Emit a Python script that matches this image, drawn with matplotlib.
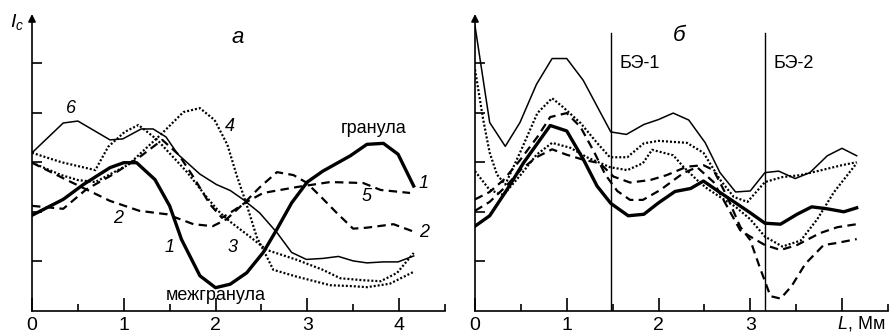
import matplotlib
matplotlib.use('Agg')
import matplotlib.pyplot as plt

plt.rcParams['font.family'] = ['Liberation Sans', 'DejaVu Sans']
plt.rcParams['mathtext.fontset'] = 'custom'
plt.rcParams['mathtext.rm'] = 'Liberation Sans'
plt.rcParams['mathtext.it'] = 'Liberation Sans:italic'

# ---------------- data: panel a ----------------
a1_x = [0, 0.34, 0.56, 0.85, 1.0, 1.14, 1.34, 1.5, 1.63, 1.83, 2.0, 2.16, 2.34, 2.52, 2.67, 2.83, 3.0, 3.17, 3.47, 3.65, 3.83, 3.99, 4.16]
a1_y = [1.93, 2.25, 2.55, 2.89, 2.99, 2.99, 2.65, 2.12, 1.44, 0.71, 0.47, 0.54, 0.77, 1.18, 1.65, 2.18, 2.6, 2.82, 3.13, 3.36, 3.38, 3.16, 2.52]

a6_x = [0, 0.34, 0.5, 0.85, 0.99, 1.19, 1.32, 1.46, 1.59, 1.83, 2.01, 2.16, 2.3, 2.48, 2.67, 2.83, 2.99, 3.17, 3.34, 3.5, 3.65, 3.83, 3.99, 4.16]
a6_y = [3.19, 3.79, 3.83, 3.45, 3.47, 3.67, 3.67, 3.51, 3.16, 2.76, 2.55, 2.43, 2.25, 1.98, 1.58, 1.18, 1.04, 1.06, 1.10, 1.01, 0.97, 0.99, 0.99, 1.11]

a2_x = [0, 0.37, 0.85, 1.17, 1.47, 1.76, 1.97, 2.12, 2.32, 2.48, 2.67, 2.85, 2.99, 3.14, 3.32, 3.5, 3.65, 3.94, 4.16]
a2_y = [2.99, 2.65, 2.22, 2.02, 1.95, 1.75, 1.71, 1.85, 2.19, 2.49, 2.80, 2.74, 2.59, 2.32, 1.98, 1.66, 1.68, 1.75, 1.60]

a5_x = [0, 0.34, 0.59, 0.88, 1.17, 1.42, 1.6, 1.76, 1.94, 2.07, 2.21, 2.32, 2.52, 2.89, 3.25, 3.61, 3.8, 4.12]
a5_y = [2.12, 2.06, 2.45, 2.75, 3.1, 3.45, 3.15, 2.7, 2.15, 1.88, 2.04, 2.18, 2.38, 2.50, 2.60, 2.58, 2.44, 2.38]

a4_x = [0, 0.32, 0.5, 0.69, 1.05, 1.4, 1.65, 1.83, 1.99, 2.13, 2.23, 2.34, 2.45, 2.56, 2.63, 2.89, 3.25, 3.5, 3.65, 3.9, 4.16]
a4_y = [2.99, 2.74, 2.64, 2.6, 2.95, 3.55, 4.01, 4.09, 3.85, 3.35, 2.74, 2.14, 1.49, 1.09, 0.83, 0.69, 0.52, 0.50, 0.48, 0.55, 0.79]

a3_x = [0, 0.32, 0.69, 0.83, 1.01, 1.16, 1.36, 1.54, 1.69, 1.91, 2.05, 2.16, 2.38, 2.56, 2.89, 3.17, 3.36, 3.61, 3.8, 3.98, 4.16]
a3_y = [3.19, 3.0, 2.84, 3.31, 3.61, 3.75, 3.46, 3.1, 2.80, 2.28, 1.98, 1.8, 1.49, 1.23, 1.03, 0.83, 0.66, 0.62, 0.6, 0.77, 1.17]

# ---------------- data: panel б ----------------
b6_x = [0, 0.16, 0.33, 0.49, 0.67, 0.84, 1.0, 1.18, 1.35, 1.48, 1.65, 1.84, 2.0, 2.16, 2.33, 2.51, 2.67, 2.84, 3.0, 3.16, 3.31, 3.49, 3.65, 3.84, 4.0, 4.16]
b6_y = [5.75, 3.80, 3.32, 3.80, 4.57, 5.09, 5.09, 4.65, 4.06, 3.61, 3.56, 3.76, 3.86, 3.99, 3.85, 3.39, 2.79, 2.40, 2.42, 2.79, 2.82, 2.67, 2.79, 3.13, 3.28, 3.13]

b1_x = [0, 0.16, 0.35, 0.53, 0.82, 1.0, 1.18, 1.33, 1.48, 1.67, 1.84, 2.0, 2.18, 2.35, 2.49, 2.67, 2.84, 3.0, 3.16, 3.33, 3.51, 3.67, 3.84, 4.02, 4.16]
b1_y = [1.71, 1.92, 2.45, 2.99, 3.74, 3.63, 3.06, 2.52, 2.17, 1.92, 1.95, 2.18, 2.41, 2.47, 2.62, 2.39, 2.18, 1.98, 1.77, 1.75, 1.95, 2.10, 2.06, 2.00, 2.08]

bA_x = [0, 0.09, 0.16, 0.24, 0.33, 0.49, 0.68, 0.84, 0.96, 1.15, 1.33, 1.47, 1.66, 1.84, 2.0, 2.31, 2.49, 2.67, 2.82, 2.97, 3.16, 3.35, 3.55, 3.8, 4.0, 4.16]
bA_y = [4.87, 3.85, 3.19, 2.75, 2.55, 3.19, 3.99, 4.29, 4.11, 3.79, 3.39, 3.10, 3.1, 3.38, 3.43, 3.39, 3.19, 2.65, 2.3, 2.2, 2.6, 2.7, 2.74, 2.85, 2.94, 3.0]

bB_x = [0, 0.16, 0.31, 0.5, 0.67, 0.84, 1.04, 1.22, 1.47, 1.66, 1.83, 1.93, 2.16, 2.27, 2.42, 2.53, 2.67, 2.84, 3.0, 3.16, 3.35, 3.55, 3.73, 3.91, 4.16]
bB_y = [2.82, 2.44, 2.34, 2.75, 3.15, 3.39, 3.29, 3.1, 2.9, 2.84, 2.98, 3.25, 3.14, 2.91, 2.64, 2.47, 2.3, 2.1, 1.85, 1.5, 1.3, 1.42, 1.85, 2.39, 2.98]

bC_x = [0, 0.16, 0.31, 0.49, 0.68, 0.82, 1.0, 1.15, 1.3, 1.42, 1.55, 1.69, 1.83, 2.02, 2.27, 2.42, 2.6, 2.75, 2.89, 3.0, 3.16, 3.33, 3.51, 3.76, 3.95, 4.16]
bC_y = [2.25, 2.4, 2.64, 3.04, 3.51, 3.91, 3.99, 3.71, 3.2, 2.75, 2.42, 2.24, 2.24, 2.44, 2.78, 2.9, 2.6, 2.1, 1.63, 1.5, 1.33, 1.23, 1.33, 1.57, 1.69, 1.75]

bD_x = [0, 0.16, 0.33, 0.5, 0.67, 0.84, 1.0, 1.18, 1.36, 1.51, 1.69, 1.91, 2.09, 2.31, 2.49, 2.6, 2.75, 2.89, 3.0, 3.1, 3.22, 3.33, 3.45, 3.6, 3.8, 3.94, 4.16]
bD_y = [2.02, 2.2, 2.5, 2.85, 3.1, 3.26, 3.15, 3.05, 2.98, 2.71, 2.59, 2.64, 2.74, 2.91, 2.94, 2.84, 2.3, 1.7, 1.43, 0.9, 0.3, 0.25, 0.5, 0.95, 1.33, 1.37, 1.45]

be_lines = [1.48, 3.16]
x_ticks = [0, 1, 2, 3, 4]

# ---------------- layout ----------------
W, H = 890, 333
fig = plt.figure(figsize=(W / 100, H / 100), dpi=100)
PXU, PYU = 91.75, 49.6
Y0 = 311
XMAX = 4.5
YMAX = (311 - 14) / PYU


def make_ax(x0):
    ax = fig.add_axes([x0 / W, (H - Y0) / H, XMAX * PXU / W, YMAX * PYU / H])
    ax.set_xlim(0, XMAX)
    ax.set_ylim(0, YMAX)
    ax.patch.set_alpha(0)
    for s in ['top', 'right', 'left']:
        ax.spines[s].set_visible(False)
    ax.spines['bottom'].set_linewidth(1.2)
    ax.set_xticks(x_ticks)
    ax.set_xticks([0.5, 1.5, 2.5, 3.5, 4.5], minor=True)
    ax.set_yticks([1, 2, 3, 4, 5])
    ax.set_yticklabels([])
    ax.tick_params(axis='x', which='major', direction='in', length=9.5, width=1.2,
                   labelsize=14, pad=4.5)
    ax.tick_params(axis='x', which='minor', direction='in', length=5, width=1.2)
    ax.tick_params(axis='y', which='major', direction='in', length=7, width=1.2)
    ax.annotate('', xy=(0, YMAX), xytext=(0, 0),
                arrowprops=dict(arrowstyle='-|>', lw=1.2, color='black',
                                mutation_scale=11, shrinkA=0, shrinkB=0),
                annotation_clip=False)
    return ax


THICK = dict(color='black', lw=2.4, solid_joinstyle='round')
THIN = dict(color='black', lw=1.1)
DASH = dict(color='black', lw=1.6, dashes=(3.8, 2.4))
DOT = dict(color='black', lw=1.6, dashes=(0.9, 0.9))

# ---------------- panel a ----------------
ax1 = make_ax(32)
ax1.set_xticklabels([str(t) for t in x_ticks])
ax1.plot(a6_x, a6_y, **THIN)
ax1.plot(a3_x, a3_y, **DOT)
ax1.plot(a4_x, a4_y, **DOT)
ax1.plot(a2_x, a2_y, **DASH)
ax1.plot(a5_x, a5_y, **DASH)
ax1.plot(a1_x, a1_y, **THICK)

lab = dict(fontsize=13, style='italic', ha='center', va='center')
ax1.text(0.43, 4.09, '6', **lab)
ax1.text(2.16, 3.71, '4', **lab)
ax1.text(4.27, 2.58, '1', **lab)
ax1.text(3.65, 2.30, '5', **lab)
ax1.text(4.27, 1.59, '2', **lab)
ax1.text(0.94, 1.87, '2', **lab)
ax1.text(1.50, 1.29, '1', **lab)
ax1.text(2.19, 1.29, '3', **lab)
ax1.text(3.72, 3.67, 'гранула', fontsize=13, ha='center', va='center')
ax1.text(2.0, 0.31, 'межгранула', fontsize=13, ha='center', va='center')
ax1.text(2.245, 5.52, 'а', fontsize=16, style='italic', ha='center', va='center')
ax1.text(-0.165, 5.83, r'$I_c$', fontsize=14, ha='center', va='center')

# ---------------- panel б ----------------
ax2 = make_ax(475)
ax2.set_xticklabels(['0', '1', '2', '3', ''])
for xv in be_lines:
    ax2.plot([xv, xv], [0, (311 - 33) / PYU], color='black', lw=1.0)
ax2.plot(b6_x, b6_y, **THIN)
ax2.plot(bA_x, bA_y, **DOT)
ax2.plot(bB_x, bB_y, **DOT)
ax2.plot(bC_x, bC_y, **DASH)
ax2.plot(bD_x, bD_y, **DASH)
ax2.plot(b1_x, b1_y, **THICK)

ax2.text(1.79, 4.98, 'БЭ-1', fontsize=13, ha='center', va='center')
ax2.text(3.47, 4.98, 'БЭ-2', fontsize=13, ha='center', va='center')
ax2.text(2.23, 5.56, 'б', fontsize=16, style='italic', ha='center', va='center')
ax2.text(3.95, -0.345, r'$L$, Мм', fontsize=13, ha='left', va='baseline')

fig.savefig('out.png', dpi=100)
